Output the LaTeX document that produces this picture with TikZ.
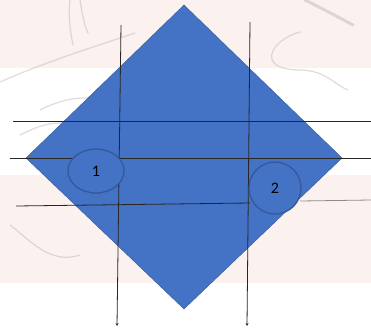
\documentclass[tikz,border=0pt]{standalone}
\usepackage{fontspec}
\setmainfont{Carlito}
\usetikzlibrary{shapes.geometric,arrows.meta}
\definecolor{offblue}{HTML}{4472C4}
\definecolor{edgeblue}{HTML}{35589A}
\definecolor{bandpink}{HTML}{FBF1EF}
\definecolor{sketch}{HTML}{C9BDBB}
\tikzset{
  guide/.style={line width=0.8pt, draw=black!85},
  guidearrow/.style={guide, -{Stealth[length=3pt,width=3pt]}},
  marker/.style={fill=offblue, draw=edgeblue, line width=1.3pt, inner sep=0pt, font=\fontsize{16}{16}\selectfont},
  faint/.style={draw=sketch, line width=1.2pt, opacity=0.55, line cap=round}
}
\begin{document}
\begin{tikzpicture}[x=1pt,y=-1pt]
\useasboundingbox (0,0) rectangle (371,327);
% background bands
\fill[bandpink] (0,0) rectangle (371,68);
\fill[bandpink] (0,175) rectangle (371,283);
% faint sketch strokes of the background
\draw[faint] (0,82) .. controls (50,60) and (100,45) .. (135,33);
\draw[faint] (70,0) .. controls (68,15) and (70,30) .. (73,45);
\draw[faint] (80,0) .. controls (82,12) and (84,25) .. (88,33);
\draw[faint,line width=3pt] (305,0) .. controls (325,10) and (340,18) .. (353,25);
\draw[faint] (300,32) .. controls (270,40) and (255,70) .. (300,70) .. controls (325,70) and (335,85) .. (348,90);
\draw[faint] (10,225) .. controls (30,240) and (50,265) .. (80,255);
\draw[faint] (40,110) .. controls (60,100) and (80,95) .. (100,100);
\draw[faint] (20,135) .. controls (40,125) and (55,120) .. (75,125);
% diamond
\coordinate (dt) at (184,5);
\coordinate (dl) at (26,158);
\coordinate (dr) at (342,158);
\coordinate (db) at (184,309);
\fill[offblue, draw=edgeblue, line width=0.4pt] (dt) -- (dr) -- (db) -- (dl) -- cycle;
% guide lines
\coordinate (v1t) at (121,25);
\coordinate (v1b) at (117,326);
\coordinate (v2t) at (250,22);
\coordinate (v2b) at (247,326);
\coordinate (h1l) at (13,121);
\coordinate (h1r) at (371,121);
\coordinate (h2l) at (10,158);
\coordinate (h2r) at (371,158);
\coordinate (h3l) at (16,206);
\coordinate (h3r) at (250,203);
\coordinate (h4l) at (300,201);
\coordinate (h4r) at (371,200);
\draw[guidearrow] (v1t) -- (v1b);
\draw[guidearrow] (v2t) -- (v2b);
\draw[guide] (h1l) -- (h1r);
\draw[guide] (h2l) -- (h2r);
\draw[guide] (h3l) -- (h3r);
\draw[guide, draw=black!45] (h4l) -- (h4r);
% markers
\node[marker, ellipse, minimum width=56pt, minimum height=44pt] (m1) at (96,171) {1};
\node[marker, circle, minimum size=52pt] (m2) at (275,188) {2};
\end{tikzpicture}
\end{document}
